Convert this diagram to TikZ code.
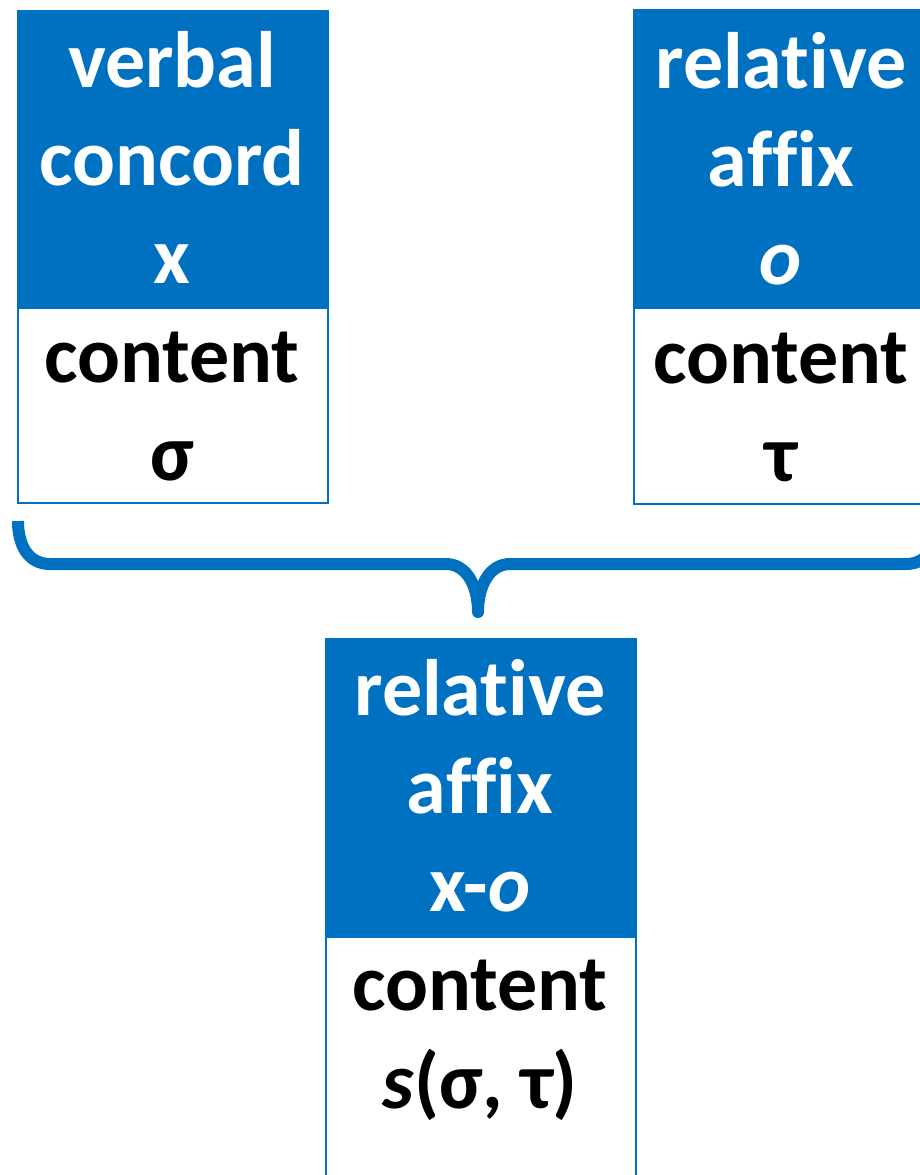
\documentclass[tikz,border=0pt]{standalone}
\usepackage{fontspec}
\setmainfont[Ligatures={NoCommon}]{Carlito}
\definecolor{ppblue}{RGB}{0,112,192}
\tikzset{
  headbox/.style={fill=ppblue, draw=ppblue, line width=1.5pt, inner sep=0pt, anchor=north west},
  bodybox/.style={fill=white, draw=ppblue, line width=2pt, inner sep=0pt, anchor=north west},
  htext/.style={text=white, font=\fontsize{80}{98}\selectfont\bfseries, anchor=base, inner sep=0pt},
  btext/.style={text=black, font=\fontsize{80}{98}\selectfont\bfseries, anchor=base, inner sep=0pt},
  bracestyle/.style={draw=ppblue, line width=12pt, line join=round, line cap=butt}
}
\begin{document}
\begin{tikzpicture}[x=1pt,y=-1pt]
\useasboundingbox (0,0) rectangle (920,1175);
% left box
\node[headbox, minimum width=310pt, minimum height=297pt] (lh) at (17,10) {};
\node[bodybox, minimum width=310pt, minimum height=195pt] (lb) at (17,307) {};
\node[htext] (l1) at (172,87) {verbal};
\node[htext] (l2) at (172,185) {concord};
\node[htext] (l3) at (172,283) {x};
\node[btext] (l4) at (172,382) {content};
\node[btext] (l5) at (172,480) {σ};
% right box
\node[headbox, minimum width=310pt, minimum height=298pt] (rh) at (633,9) {};
\node[bodybox, minimum width=310pt, minimum height=196pt] (rb) at (633,307) {};
\node[htext] (r1) at (781,88) {relative};
\node[htext] (r2) at (781,186) {affix};
\node[htext] (r3) at (781,284) {\textit{o}};
\node[btext] (r4) at (781,383) {content};
\node[btext] (r5) at (781,481) {τ};
% brace
\coordinate (braceL) at (18,521);
\coordinate (braceTip) at (478,612);
\coordinate (braceR) at (938,521);
\draw[bracestyle] (braceL) .. controls (18,545) and (28,564) .. (50,564) -- (446,564)
  .. controls (466,564) and (478,585) .. (braceTip)
  .. controls (478,585) and (490,564) .. (510,564) -- (906,564)
  .. controls (928,564) and (938,545) .. (braceR);
% bottom box
\node[headbox, minimum width=310pt, minimum height=298pt] (bh) at (325,638) {};
\node[bodybox, minimum width=310pt, minimum height=300pt] (bb) at (325,936) {};
\node[htext] (b1) at (480,715) {relative};
\node[htext] (b2) at (480,813) {affix};
\node[htext] (b3) at (480,911) {x-\textit{o}};
\node[btext] (b4) at (480,1010) {content};
\node[btext] (b5) at (480,1108) {\textit{s}(σ, τ)};
\end{tikzpicture}
\end{document}
